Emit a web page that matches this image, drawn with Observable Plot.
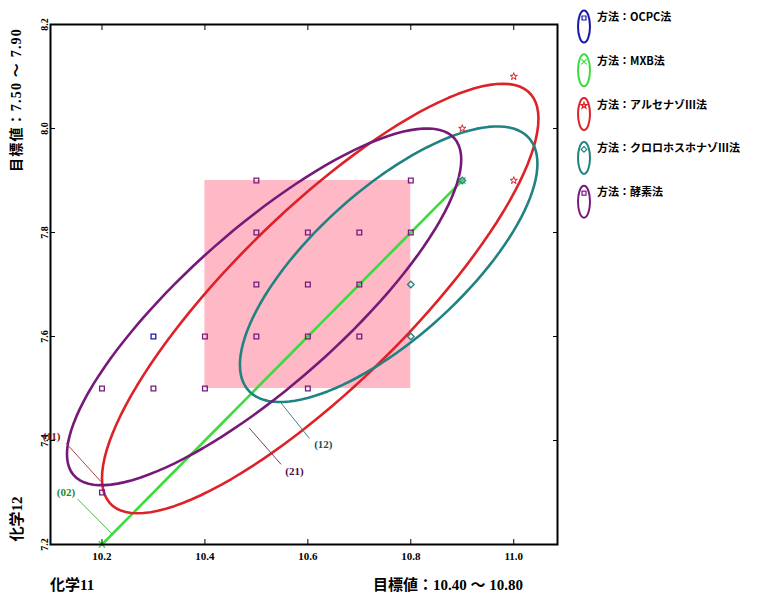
<!DOCTYPE html>
<html>
<head>
<meta charset="utf-8">
<script src="https://cdn.jsdelivr.net/npm/d3@7"></script>
<script src="https://cdn.jsdelivr.net/npm/@observablehq/plot@0.6"></script>
<style>
  body { margin: 0; background: #fff; }
  #chart { position: relative; width: 757px; height: 592px; }
</style>
</head>
<body>
<div id="chart"></div>
<script>
// ---- data ----
const xTicks = [10.2, 10.4, 10.6, 10.8, 11.0];
const yTicks = [7.2, 7.4, 7.6, 7.8, 8.0, 8.2];
const targetX = [10.40, 10.80];
const targetY = [7.50, 7.90];

const methods = ["方法：OCPC法", "方法：MXB法", "方法：アルセナゾⅢ法", "方法：クロロホスホナゾⅢ法", "方法：酵素法"];
const colors = ["#1a1aa8", "#3ddc3d", "#dd2228", "#218282", "#761a7a"];
const symbols = ["square2", "times", "star", "diamond2", "square2"];

// points (化学11, 化学12) per method
const ocpcX = [10.3];
const ocpcY = [7.6];
const mxbX = [10.2, 10.9];
const mxbY = [7.2, 7.9];
const arsX = [10.9, 11.0, 11.0];
const arsY = [8.0, 8.1, 7.9];
const cpzX = [10.8, 10.8, 10.9];
const cpzY = [7.7, 7.6, 7.9];
const enzX = [10.2, 10.2, 10.3, 10.4, 10.4, 10.5, 10.6, 10.7, 10.6, 10.5, 10.6, 10.7, 10.5, 10.6, 10.7, 10.8, 10.5, 10.8];
const enzY = [7.3, 7.5, 7.5, 7.5, 7.6, 7.6, 7.6, 7.6, 7.5, 7.7, 7.7, 7.7, 7.8, 7.8, 7.8, 7.8, 7.9, 7.9];

// probability ellipses: center, x/y half extents, correlation (method index)
const ellMethod = [1, 2, 3, 4];
const ellCx = [10.55, 10.624, 10.757, 10.515];
const ellCy = [7.55, 7.673, 7.739, 7.657];
const ellRx = [0.35, 0.424, 0.289, 0.383];
const ellRy = [0.35, 0.413, 0.265, 0.343];
const ellR  = [1.0, 0.837, 0.73, 0.826];

// annotation labels with leader lines
const annText = ["(11)", "(02)", "(12)", "(21)"];
const annX = [10.102, 10.130, 10.630, 10.574];
const annY = [7.408, 7.300, 7.393, 7.341];
const annX1 = [10.130, 10.153, 10.603, 10.548];
const annY1 = [7.395, 7.287, 7.404, 7.354];
const annX2 = [10.198, 10.221, 10.548, 10.486];
const annY2 = [7.321, 7.219, 7.472, 7.424];
const annTextColor = ["#7a1414", "#1f8a1f", "#1d4f58", "#4a0c4a"];
const annLineColor = ["#a04848", "#44bb44", "#4a8080", "#6a466a"];

// ---- build tables ----
const pts = [];
[[ocpcX, ocpcY], [mxbX, mxbY], [arsX, arsY], [cpzX, cpzY], [enzX, enzY]].forEach(([xs, ys], m) => {
  xs.forEach((x, i) => pts.push({x, y: ys[i], m}));
});
const ellPts = [];
ellMethod.forEach((m, k) => {
  const s = Math.sqrt(Math.max(0, 1 - ellR[k] * ellR[k]));
  d3.range(0, 361, 3).forEach(deg => {
    const t = deg * Math.PI / 180;
    ellPts.push({
      m,
      x: ellCx[k] + ellRx[k] * Math.cos(t),
      y: ellCy[k] + ellRy[k] * (ellR[k] * Math.cos(t) + s * Math.sin(t))
    });
  });
});
const ann = annText.map((t, i) => ({t, x: annX[i], y: annY[i], x1: annX1[i], y1: annY1[i], x2: annX2[i], y2: annY2[i], tc: annTextColor[i], lc: annLineColor[i]}));

const fontNum = "'Liberation Serif', 'Noto Sans CJK JP', serif";

const chart = Plot.plot({
  width: 757,
  height: 592,
  marginLeft: 50,
  marginRight: 200,
  marginTop: 24,
  marginBottom: 48,
  style: {fontFamily: fontNum, fontSize: "11px", fontWeight: "bold", background: "#fff", overflow: "visible"},
  x: {domain: [10.1, 11.085]},
  y: {domain: [7.2, 8.2]},
  marks: [
    Plot.rect([0], {x1: () => targetX[0], x2: () => targetX[1], y1: () => targetY[0], y2: () => targetY[1], fill: "#ffb8c6"}),
    Plot.line(ellPts, {x: "x", y: "y", z: "m", stroke: d => colors[d.m], strokeWidth: 2.6, curve: "linear"}),
    Plot.dot(pts, {x: "x", y: "y", symbol: d => symbols[d.m], stroke: d => colors[d.m], r: d => d.m === 2 ? 1.6 : 2.8, strokeWidth: d => d.m === 2 ? 1 : 1.3}),
    Plot.link(ann, {x1: "x1", y1: "y1", x2: "x2", y2: "y2", stroke: d => d.lc, strokeWidth: 1}),
    Plot.axisX({ticks: xTicks, tickFormat: d3.format(".1f"), tickSize: -5, tickPadding: 13, label: null}),
    Plot.axisX({anchor: "top", ticks: xTicks, tickSize: -5, tickFormat: () => "", label: null}),
    Plot.axisY({ticks: yTicks, tickFormat: d3.format(".1f"), tickSize: -5, tickPadding: 8, tickRotate: -90, fontSize: 10, label: null}),
    Plot.axisY({anchor: "right", ticks: yTicks, tickSize: -5, tickFormat: () => "", label: null}),
    Plot.frame({stroke: "#000", strokeWidth: 2}),
    Plot.text(ann, {x: "x", y: "y", text: "t", fill: d => d.tc, fontSize: 11, fontWeight: "bold", textAnchor: "middle", clip: false})
  ]
});
document.getElementById("chart").appendChild(chart);

// ---- titles & legend ----
const svg = d3.select(chart);
const tfont = "'Liberation Serif', 'Noto Sans CJK JP', serif";
svg.append("text").attr("x", 50).attr("y", 590).attr("text-anchor", "start").attr("font-size", 15).attr("font-weight", "bold")
  .attr("font-family", tfont).attr("fill", "#000").text("化学11");
svg.append("text").attr("x", 523).attr("y", 590).attr("text-anchor", "end").attr("font-size", 15).attr("font-weight", "bold")
  .attr("font-family", tfont).attr("fill", "#000").text("目標値：10.40 ～ 10.80");
svg.append("text").attr("transform", "translate(21,100) rotate(-90)").attr("text-anchor", "middle")
  .attr("font-size", 14).attr("font-weight", "bold").attr("letter-spacing", 1.2)
  .attr("font-family", tfont).attr("fill", "#000").text("目標値：7.50 ～ 7.90");
svg.append("text").attr("transform", "translate(22,519) rotate(-90)").attr("text-anchor", "middle")
  .attr("font-size", 15).attr("font-weight", "bold")
  .attr("font-family", tfont).attr("fill", "#000").text("化学12");

const symMap = {square2: d3.symbolSquare2, times: d3.symbolTimes, star: d3.symbolStar, diamond2: d3.symbolDiamond2};
const lg = svg.append("g");
methods.forEach((name, i) => {
  const y0 = 10 + i * 43.8;
  const g = lg.append("g").attr("transform", `translate(584,${y0})`);
  g.append("ellipse").attr("cx", 0).attr("cy", 16.5).attr("rx", 6).attr("ry", 16)
    .attr("fill", "none").attr("stroke", colors[i]).attr("stroke-width", 2);
  g.append("path").attr("transform", "translate(0,8)").attr("d", d3.symbol(symMap[symbols[i]], symbols[i] === "star" ? 12 : 20)())
    .attr("fill", "none").attr("stroke", colors[i]).attr("stroke-width", 1.2);
  g.append("text").attr("x", 13).attr("y", 11).attr("text-anchor", "start").attr("font-size", 11).attr("font-weight", "bold")
    .attr("font-family", "'Noto Sans CJK JP', sans-serif").attr("fill", "#000").text(name);
});
</script>
</body>
</html>
